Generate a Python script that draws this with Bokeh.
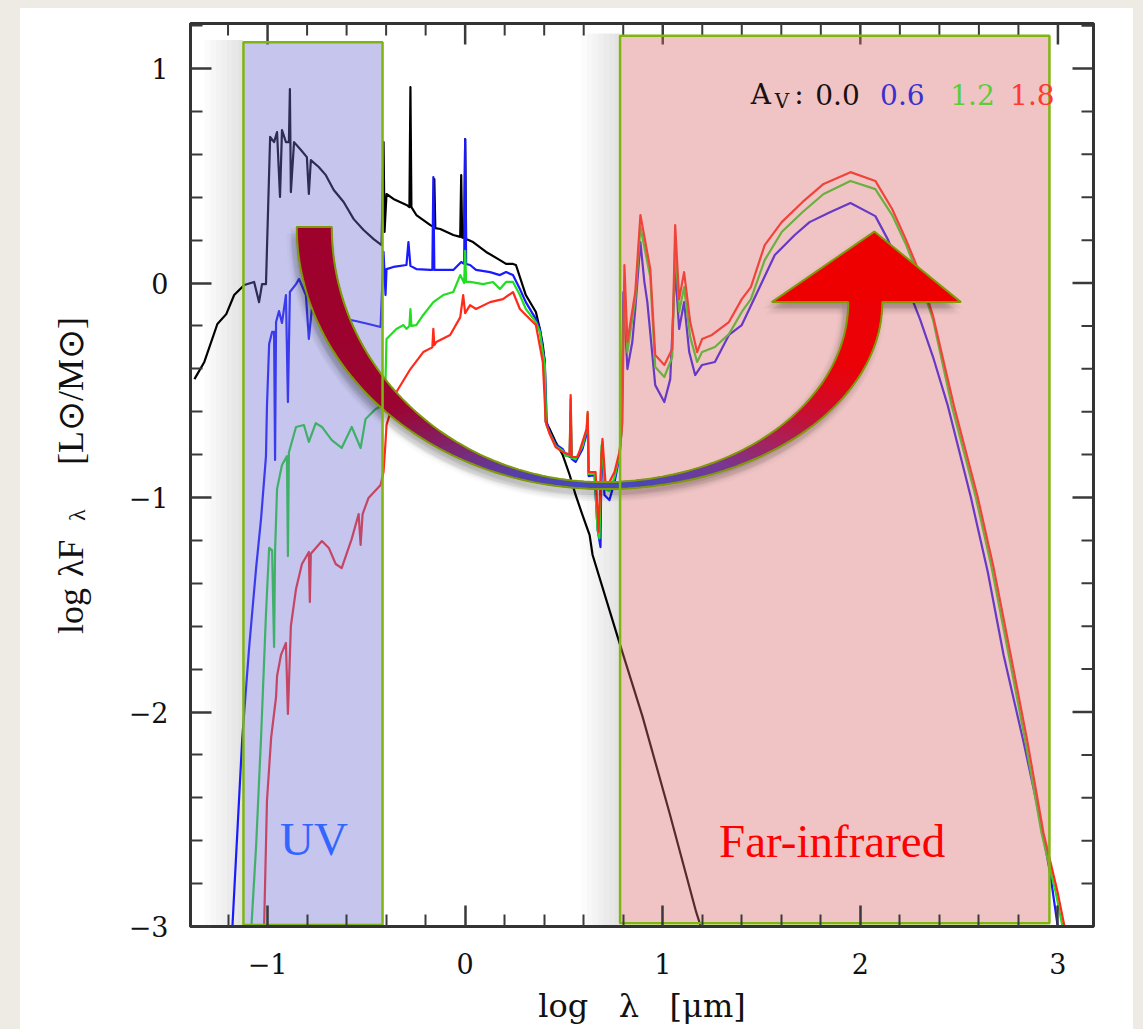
import math
import numpy as np
from bokeh.plotting import figure
from bokeh.models import FixedTicker, Range1d
from bokeh.layouts import column, row
from bokeh.core.properties import value
from bokeh.embed import file_html
from bokeh.resources import INLINE

# ---------------- data: log lambda [um] vs log lambda F_lambda ----------------
# A_V = 0.0 (black)
lam_av00 = [-1.370, -1.320, -1.254, -1.209, -1.169, -1.118, -1.068, -1.043, -1.028, -1.008,
            -0.997, -0.987, -0.967, -0.952, -0.937, -0.927, -0.907, -0.892, -0.887, -0.882,
            -0.866, -0.831, -0.801, -0.791, -0.781, -0.741, -0.705, -0.665, -0.615, -0.564,
            -0.514, -0.463, -0.423, -0.413, -0.408, -0.398, -0.363, -0.297, -0.282, -0.277,
            -0.272, -0.247, -0.176, -0.161, -0.156, -0.151, -0.126, -0.060, -0.025, -0.020,
            -0.015, -0.005, 0.000, 0.005, 0.040, 0.106, 0.176, 0.207, 0.242, 0.257,
            0.307, 0.358, 0.378, 0.393, 0.403, 0.408, 0.428, 0.458, 0.494, 0.529,
            0.559, 0.594, 0.630, 0.645, 0.781, 0.897, 1.033, 1.169, 1.234]
sed_av00 = [-0.448, -0.368, -0.191, -0.145, -0.056, -0.009, 0.005, -0.089, -0.005, -0.005,
            0.354, 0.681, 0.657, 0.704, 0.401, 0.713, 0.657, 0.657, 0.904, 0.424,
            0.657, 0.620, 0.587, 0.415, 0.573, 0.541, 0.503, 0.434, 0.378, 0.298,
            0.247, 0.205, 0.177, 0.657, 0.238, 0.415, 0.392, 0.364, 0.354, 0.914,
            0.354, 0.317, 0.270, 0.262, 0.485, 0.256, 0.252, 0.224, 0.215, 0.503,
            0.212, 0.210, 0.671, 0.205, 0.191, 0.145, 0.107, 0.089, 0.089, 0.084,
            -0.056, -0.135, -0.214, -0.289, -0.368, -0.648, -0.681, -0.741, -0.802, -0.895,
            -0.988, -1.082, -1.175, -1.268, -1.678, -2.019, -2.466, -2.932, -3.119]

# A_V = 0.6 (blue)
lam_av06 = [-1.179, -1.128, -1.093, -1.058, -1.033, -1.008, -1.003, -0.992, -0.977, -0.967,
            -0.962, -0.957, -0.942, -0.927, -0.907, -0.897, -0.887, -0.856, -0.841, -0.806,
            -0.791, -0.776, -0.725, -0.675, -0.605, -0.554, -0.489, -0.428, -0.413, -0.403,
            -0.398, -0.363, -0.297, -0.287, -0.277, -0.247, -0.176, -0.166, -0.161, -0.156,
            -0.126, -0.060, -0.020, -0.005, 0.000, 0.005, 0.025, 0.055, 0.126, 0.176,
            0.207, 0.242, 0.277, 0.307, 0.358, 0.378, 0.393, 0.403, 0.413, 0.428,
            0.458, 0.494, 0.509, 0.529, 0.534, 0.539, 0.559, 0.594, 0.615, 0.620,
            0.625, 0.655, 0.670, 0.685, 0.690, 0.695, 0.705, 0.730, 0.756, 0.781,
            0.791, 0.801, 0.821, 0.846, 0.861, 0.887, 0.907, 0.922, 0.962, 1.008,
            1.038, 1.063, 1.083, 1.108, 1.134, 1.164, 1.199, 1.264, 1.335, 1.400,
            1.486, 1.567, 1.668, 1.743, 1.849, 1.950, 2.076, 2.141, 2.212, 2.302,
            2.368, 2.443, 2.559, 2.645, 2.725, 2.826, 2.912, 2.962, 2.997, 3.013]
sed_av06 = [-3.021, -2.121, -1.697, -1.329, -1.100, -0.807, -0.573, -0.284, -0.228, -0.228,
            -0.825, -0.182, -0.131, -0.186, -0.056, -0.555, -0.042, -0.005, 0.019, -0.056,
            -0.261, -0.121, -0.159, -0.145, -0.168, -0.177, -0.191, -0.205, 0.145, -0.056,
            0.065, 0.075, 0.084, 0.191, 0.080, 0.065, 0.061, 0.061, 0.494, 0.061,
            0.061, 0.061, 0.098, 0.089, 0.671, 0.089, 0.084, 0.061, 0.051, 0.037,
            0.051, 0.037, -0.028, -0.089, -0.168, -0.214, -0.308, -0.368, -0.648, -0.695,
            -0.751, -0.774, -0.802, -0.810, -0.600, -0.820, -0.834, -0.774, -0.700, -0.640,
            -0.900, -0.895, -1.147, -1.231, -0.800, -0.760, -0.988, -1.012, -0.928, -0.811,
            -0.695, -0.042, -0.401, -0.275, -0.121, 0.191, 0.005, -0.089, -0.476, -0.555,
            -0.448, 0.065, -0.214, -0.089, -0.322, -0.429, -0.382, -0.368, -0.242, -0.196,
            -0.028, 0.131, 0.224, 0.284, 0.331, 0.373, 0.312, 0.200, 0.042, -0.168,
            -0.345, -0.573, -0.998, -1.347, -1.734, -2.140, -2.508, -2.760, -2.988, -3.070]

# A_V = 1.2 (green)
lam_av12 = [-1.083, -1.058, -1.033, -1.008, -0.992, -0.977, -0.967, -0.962, -0.952, -0.927,
            -0.902, -0.897, -0.892, -0.856, -0.816, -0.791, -0.756, -0.725, -0.675, -0.625,
            -0.574, -0.529, -0.504, -0.453, -0.423, -0.403, -0.398, -0.378, -0.348, -0.312,
            -0.297, -0.282, -0.277, -0.272, -0.247, -0.212, -0.161, -0.111, -0.060, -0.025,
            -0.005, 0.000, 0.005, 0.025, 0.091, 0.141, 0.176, 0.207, 0.242, 0.277,
            0.307, 0.358, 0.378, 0.393, 0.403, 0.410, 0.428, 0.458, 0.494, 0.509,
            0.529, 0.534, 0.539, 0.559, 0.594, 0.615, 0.620, 0.625, 0.655, 0.670,
            0.680, 0.690, 0.695, 0.705, 0.730, 0.756, 0.781, 0.791, 0.806, 0.821,
            0.861, 0.887, 0.937, 0.962, 1.008, 1.048, 1.063, 1.083, 1.108, 1.139,
            1.174, 1.199, 1.264, 1.335, 1.400, 1.446, 1.516, 1.602, 1.708, 1.814,
            1.950, 2.076, 2.161, 2.232, 2.302, 2.368, 2.463, 2.584, 2.665, 2.751,
            2.836, 2.917, 2.987, 3.038]
sed_av12 = [-3.021, -2.625, -2.121, -1.543, -1.235, -1.245, -1.697, -1.250, -0.960, -0.848,
            -0.807, -1.273, -0.790, -0.671, -0.662, -0.741, -0.653, -0.671, -0.732, -0.769,
            -0.671, -0.769, -0.634, -0.587, -0.573, -0.448, -0.261, -0.242, -0.214, -0.196,
            -0.214, -0.200, -0.121, -0.200, -0.196, -0.149, -0.089, -0.056, -0.042, 0.037,
            0.000, 0.150, 0.005, 0.005, -0.005, 0.005, -0.028, 0.005, 0.005, -0.056,
            -0.121, -0.182, -0.228, -0.322, -0.380, -0.660, -0.700, -0.760, -0.782, -0.806,
            -0.805, -0.540, -0.815, -0.822, -0.760, -0.680, -0.610, -0.890, -0.888, -1.150,
            -1.190, -0.760, -0.740, -0.960, -0.970, -0.905, -0.800, -0.695, 0.005, -0.322,
            -0.075, 0.261, 0.028, -0.392, -0.438, -0.345, 0.191, -0.135, -0.019, -0.252,
            -0.368, -0.322, -0.298, -0.238, -0.135, -0.075, 0.107, 0.238, 0.331, 0.415,
            0.476, 0.438, 0.317, 0.177, 0.014, -0.172, -0.573, -0.998, -1.329, -1.734,
            -2.140, -2.564, -2.834, -3.068]

# A_V = 1.8 (red)
lam_av18 = [-1.018, -1.003, -0.982, -0.957, -0.952, -0.932, -0.907, -0.897, -0.882, -0.856,
            -0.826, -0.791, -0.786, -0.781, -0.725, -0.690, -0.655, -0.625, -0.574, -0.539,
            -0.529, -0.519, -0.489, -0.428, -0.413, -0.403, -0.398, -0.348, -0.277, -0.212,
            -0.166, -0.161, -0.156, -0.146, -0.076, -0.025, -0.010, 0.000, 0.025, 0.055,
            0.126, 0.191, 0.242, 0.277, 0.307, 0.358, 0.393, 0.408, 0.428, 0.458,
            0.494, 0.529, 0.534, 0.539, 0.569, 0.594, 0.615, 0.620, 0.625, 0.660,
            0.675, 0.690, 0.695, 0.710, 0.730, 0.756, 0.781, 0.796, 0.806, 0.821,
            0.861, 0.887, 0.937, 0.962, 1.008, 1.048, 1.063, 1.083, 1.108, 1.139,
            1.174, 1.199, 1.249, 1.335, 1.400, 1.446, 1.516, 1.602, 1.708, 1.814,
            1.950, 2.076, 2.161, 2.232, 2.302, 2.368, 2.474, 2.594, 2.675, 2.761,
            2.846, 2.927, 2.997, 3.048]
sed_av18 = [-3.021, -2.415, -2.121, -1.930, -1.832, -1.734, -1.678, -2.009, -1.599, -1.427,
            -1.310, -1.254, -1.487, -1.262, -1.203, -1.235, -1.310, -1.329, -1.193, -1.077,
            -1.221, -1.077, -1.002, -0.942, -0.880, -0.741, -0.662, -0.508, -0.401, -0.322,
            -0.300, -0.214, -0.290, -0.275, -0.242, -0.160, -0.056, -0.140, -0.103, -0.121,
            -0.089, -0.075, -0.042, -0.121, -0.149, -0.196, -0.368, -0.648, -0.704, -0.765,
            -0.788, -0.800, -0.522, -0.811, -0.811, -0.741, -0.680, -0.601, -0.881, -0.881,
            -1.161, -0.800, -0.727, -0.928, -0.928, -0.881, -0.788, -0.648, 0.084, -0.275,
            -0.042, 0.317, 0.065, -0.336, -0.382, -0.308, 0.270, -0.075, 0.051, -0.182,
            -0.322, -0.261, -0.242, -0.182, -0.075, -0.019, 0.177, 0.284, 0.378, 0.462,
            0.517, 0.476, 0.345, 0.200, 0.042, -0.154, -0.573, -0.998, -1.329, -1.734,
            -2.140, -2.564, -2.834, -3.068]

av_labels = ["0.0", "0.6", "1.2", "1.8"]
av_colors = ["#000000", "#1a1aff", "#22dd22", "#ff2a1a"]

# highlighted wavelength bands
band_names = ["UV", "Far-infrared"]
band_left = [-1.122, 0.784]
band_right = [-0.418, 2.957]
band_bottom = [-2.993, -2.985]
band_top = [1.123, 1.153]

x_major = [-1, 0, 1, 2, 3]
y_major = [-3, -2, -1, 0, 1]
x_minor = [round(v, 1) for v in np.arange(-1.4, 3.21, 0.2) if abs(v - round(v)) > 1e-6]
y_minor = [round(v, 1) for v in np.arange(-3.0, 1.21, 0.2) if abs(v - round(v)) > 1e-6]

XR = (-1.39, 3.18)
YR = (-3.0, 1.21)
TOP, BOTTOM = 15, 103

# ---------------- main figure ----------------
p = figure(width=1013, height=1021, x_range=Range1d(*XR), y_range=Range1d(*YR),
           output_backend="svg", toolbar_location=None,
           min_border_left=70, min_border_right=40, min_border_top=TOP, min_border_bottom=BOTTOM,
           background_fill_color="white", border_fill_color="white")
p.grid.visible = False
p.outline_line_color = "#333333"
p.outline_line_width = 3


def style_axis(ax, ticks, minor):
    ax.ticker = FixedTicker(ticks=ticks, minor_ticks=minor)
    ax.major_tick_in = 21
    ax.major_tick_out = 0
    ax.minor_tick_in = 12
    ax.minor_tick_out = 0
    ax.major_tick_line_width = 2.5
    ax.minor_tick_line_width = 2
    ax.major_tick_line_color = "#3a3a3a"
    ax.minor_tick_line_color = "#3a3a3a"
    ax.axis_line_width = 3
    ax.axis_line_color = "#333333"
    ax.major_label_text_font = "DejaVu Serif"
    ax.major_label_text_color = "#111111"
    ax.major_label_text_font_size = "27px"
    ax.major_label_overrides = {t: ("\u2212" + str(abs(t)) if t < 0 else str(t)) for t in ticks}


xb = p.below[0]
yl = p.left[0]
style_axis(xb, x_major, x_minor)
style_axis(yl, y_major, y_minor)
xb.major_label_standoff = 26
yl.major_label_standoff = 22

NB = "\u00a0"
xb.axis_label = "log" + NB * 2 + " \u03bb" + NB * 2 + " [\u03bcm]"
xb.axis_label_text_font = "DejaVu Serif"
xb.axis_label_text_font_size = "32px"
xb.axis_label_text_font_style = "normal"
xb.axis_label_text_color = "#111111"
xb.axis_label_standoff = 10

# mirrored inward ticks on the top and right frame edges
px_x = 903.0 / (XR[1] - XR[0])
px_y = 903.0 / (YR[1] - YR[0])
tx = x_major + x_minor
tlen = [21 if t in x_major else 12 for t in tx]
p.segment(x0=tx, y0=[YR[1]] * len(tx), x1=tx, y1=[YR[1] - L / px_y for L in tlen],
          line_color="#3a3a3a", line_width=[2.5 if L == 21 else 2 for L in tlen])
ty = y_major + y_minor
tlen_y = [21 if t in y_major else 12 for t in ty]
p.segment(x0=[XR[1]] * len(ty), y0=ty, x1=[XR[1] - L / px_x for L in tlen_y], y1=ty,
          line_color="#3a3a3a", line_width=[2.5 if L == 21 else 2 for L in tlen_y])

# ---------------- soft shadows left of the bands ----------------
for k in range(1, 8):
    p.quad(left=[bl - 0.028 * k for bl in band_left], right=band_left,
           bottom=[b - 0.01 for b in band_bottom], top=[t + 0.01 for t in band_top],
           fill_color="#000000", fill_alpha=0.016, line_color=None)

# ---------------- SED curves ----------------
series = [(lam_av00, sed_av00), (lam_av06, sed_av06), (lam_av12, sed_av12), (lam_av18, sed_av18)]
for (lx, ly), col in zip(series, av_colors):
    p.line(lx, ly, line_color=col, line_width=2.2, line_join="round")

# ---------------- translucent band fills ----------------
band_fill = ["#6e6ed4", "#d96b6b"]
p.quad(left=band_left, right=band_right, bottom=band_bottom, top=band_top,
       fill_color=band_fill, fill_alpha=0.4, line_color=None)

# ---------------- curved arrow (annotation geometry) ----------------
cxL, cyL = 0.695, 0.261
aLo, bLo, aLi, bLi = 1.547, 1.221, 1.370, 1.189
cxR, cyR = 0.695, -0.089
aRo, bRo, aRi, bRi = 1.416, 0.872, 1.244, 0.839
head_left, head_right, head_tip_x, head_tip_y = 1.552, 2.509, 2.071, 0.240

NL = NR = 70
tL = np.linspace(0, np.pi / 2, NL + 1)
tR = np.linspace(np.pi / 2, 0, NR + 1)
ox = np.concatenate([cxL - aLo * np.cos(tL), (cxR + aRo * np.cos(tR))[1:]])
oy = np.concatenate([cyL - bLo * np.sin(tL), (cyR - bRo * np.sin(tR))[1:]])
ix = np.concatenate([cxL - aLi * np.cos(tL), (cxR + aRi * np.cos(tR))[1:]])
iy = np.concatenate([cyL - bLi * np.sin(tL), (cyR - bRi * np.sin(tR))[1:]])

stops_x = [-1.0, -0.35, -0.05, 0.25, 0.55, 0.85, 1.30, 1.55, 1.75, 1.95, 3.0]
stops_c = [(160, 0, 42), (155, 5, 50), (125, 40, 115), (88, 62, 168), (70, 72, 188),
           (70, 72, 188), (120, 55, 148), (165, 35, 95), (200, 15, 50), (236, 2, 8), (238, 0, 0)]


def grad(xv):
    r = np.interp(xv, stops_x, [c[0] for c in stops_c])
    g = np.interp(xv, stops_x, [c[1] for c in stops_c])
    b = np.interp(xv, stops_x, [c[2] for c in stops_c])
    return "#%02x%02x%02x" % (int(r), int(g), int(b))


outline_x = list(ox) + [head_right, head_tip_x, head_left] + list(ix[::-1])
outline_y = list(oy) + [cyR, head_tip_y, cyR] + list(iy[::-1])

# soft drop shadow of the arrow
for rad in (0.012, 0.024, 0.036):
    for ang in np.linspace(0, 2 * np.pi, 7)[:-1]:
        dx = -0.018 + rad * math.cos(ang)
        dy = -0.03 + rad * 0.9 * math.sin(ang)
        p.patch([v + dx for v in outline_x], [v + dy for v in outline_y],
                fill_color="#000000", fill_alpha=0.018, line_color=None)

seg_xs, seg_ys, seg_cols = [], [], []
for i in range(len(ox) - 1):
    seg_xs.append([ox[i], ox[i + 1], ix[i + 1], ix[i]])
    seg_ys.append([oy[i], oy[i + 1], iy[i + 1], iy[i]])
    seg_cols.append(grad(0.25 * (ox[i] + ox[i + 1] + ix[i] + ix[i + 1])))
p.patches(seg_xs, seg_ys, fill_color=seg_cols, line_color=seg_cols, line_width=1)
p.patch([head_left, head_tip_x, head_right], [cyR, head_tip_y, cyR],
        fill_color="#ee0000", line_color=None)
p.patch(outline_x, outline_y, fill_alpha=0, line_color="#7f9a05", line_width=2)

# band borders (on top)
p.quad(left=band_left, right=band_right, bottom=band_bottom, top=band_top,
       fill_alpha=0, line_color="#7fb510", line_width=2.5)

# ---------------- texts in the plot ----------------
p.text(x=[-0.937], y=[-2.592], text=[band_names[0]], text_color="#3366ff",
       text_font=value("Liberation Serif"), text_font_size="47px", text_baseline="alphabetic")
p.text(x=[1.285], y=[-2.601], text=[band_names[1]], text_color="#ff0000",
       text_font=value("Liberation Serif"), text_font_size="47px", text_baseline="alphabetic")

leg_font = value("DejaVu Serif")
p.text(x=[1.446], y=[0.881], text=["A"], text_color="#1a1010", text_font=leg_font,
       text_font_size="28px", text_baseline="alphabetic")
p.text(x=[1.567], y=[0.849], text=["V"], text_color="#1a1010", text_font=leg_font,
       text_font_size="20px", text_baseline="alphabetic")
p.text(x=[1.665], y=[0.881], text=[":"], text_color="#1a1010", text_font=leg_font,
       text_font_size="28px", text_baseline="alphabetic")
leg_x = [1.772, 2.100, 2.455, 2.758]
leg_cols = ["#1a1010", "#3a30d0", "#5ccc3a", "#ff3a30"]
p.text(x=leg_x, y=[0.881] * 4, text=av_labels, text_color=leg_cols, text_font=leg_font,
       text_font_size="28px", text_baseline="alphabetic")

# ---------------- y-axis title panel (rotated text with subscript) ----------------
lab = figure(width=100, height=1021, x_range=Range1d(0, 100), y_range=p.y_range,
             output_backend="svg", toolbar_location=None, x_axis_type=None, y_axis_type=None,
             min_border_left=0, min_border_right=0, min_border_top=TOP, min_border_bottom=BOTTOM,
             background_fill_color="white", border_fill_color="white", outline_line_color=None)
lab.grid.visible = False
yl_font = value("Liberation Serif")
ytitle_parts = ["log", "\u03bbF", "\u03bb", "[L\u2299/M\u2299]"]
ytitle_pos = [-1.636, -1.371, -1.110, -0.848]
ytitle_x = [50, 50, 56, 50]
ytitle_size = ["36px", "36px", "24px", "36px"]
for t, yy, xx, fs in zip(ytitle_parts, ytitle_pos, ytitle_x, ytitle_size):
    lab.text(x=[xx], y=[yy], text=[t], angle=math.pi / 2, text_font=yl_font,
             text_font_size=fs, text_color="#111111", text_baseline="alphabetic", text_align="left")

root = column(row(lab, p, spacing=0, styles={"background-color": "white"}),
              styles={"background-color": "#eeebe5", "padding-left": "20px",
                      "padding-top": "8px", "padding-right": "10px"})
open("out.html", "w").write(file_html(root, INLINE))
